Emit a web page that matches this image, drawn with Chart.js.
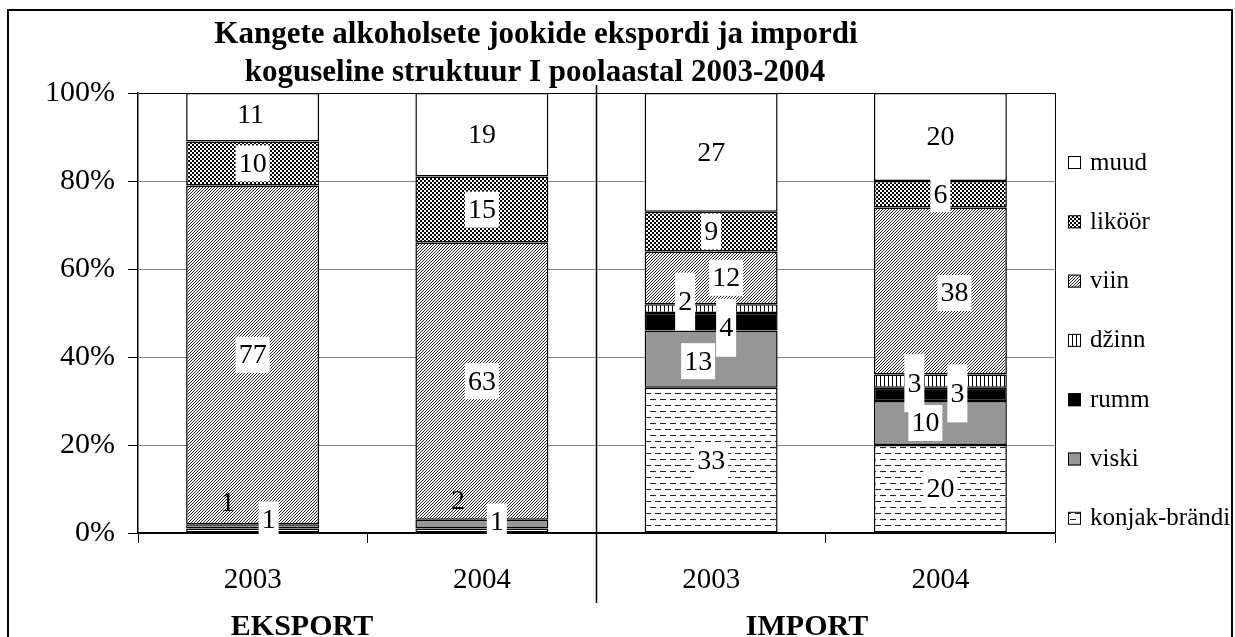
<!DOCTYPE html>
<html>
<head>
<meta charset="utf-8">
<script src="https://cdn.jsdelivr.net/npm/chart.js@4.4.1/dist/chart.umd.min.js"></script>
<style>
  body { margin: 0; background: #fff; }
  canvas { display: block; }
</style>
</head>
<body>
<canvas id="chart" width="1235" height="637"></canvas>
<script>
// andmed
const categories = ["2003", "2004", "2003", "2004"];
const groups = ["EKSPORT", "IMPORT"];
const titleLines = ["Kangete alkoholsete jookide ekspordi ja impordi", "koguseline struktuur I poolaastal 2003-2004"];
const seriesNames = ["konjak-brändi", "viski", "rumm", "džinn", "viin", "liköör", "muud"];
const konjak = [1, 1, 33, 20];
const viski = [1, 2, 13, 10];
const rumm = [0, 0, 4, 3];
const dzinn = [0, 0, 2, 3];
const viin = [77, 63, 12, 38];
const likoor = [10, 15, 9, 6];
const muud = [11, 19, 27, 20];
const yTicks = [0, 20, 40, 60, 80, 100];

const serif = "'Times New Roman', 'Liberation Serif', serif";

function makePattern(w, h, draw) {
    const c = document.createElement("canvas");
    c.width = w;
    c.height = h;
    const g = c.getContext("2d");
    draw(g);
    return g.createPattern(c, "repeat");
}

// mustrid (Exceli stiilis)
const fills = [
    makePattern(10, 12, (g) => {
        g.fillStyle = "#fff"; g.fillRect(0, 0, 10, 12);
        g.fillStyle = "#222";
        g.fillRect(0, 3, 6, 1);
        g.fillRect(5, 9, 5, 1);
        g.fillRect(0, 9, 1, 1);
    }),
    "#969696",
    "#000000",
    makePattern(4, 4, (g) => {
        g.fillStyle = "#fff"; g.fillRect(0, 0, 4, 4);
        g.fillStyle = "#000"; g.fillRect(0, 0, 1, 4);
    }),
    makePattern(3, 3, (g) => {
        g.fillStyle = "#fff"; g.fillRect(0, 0, 3, 3);
        g.fillStyle = "#222";
        for (let y = 0; y < 3; y++) g.fillRect(2 - y, y, 1, 1);
    }),
    makePattern(4, 4, (g) => {
        g.fillStyle = "#fff"; g.fillRect(0, 0, 4, 4);
        g.fillStyle = "#000";
        g.fillRect(0, 0, 2, 2);
        g.fillRect(2, 2, 2, 2);
    }),
    "#ffffff",
];

const values = [konjak, viski, rumm, dzinn, viin, likoor, muud];

// siltide nihked: [dx, dy, kasti kõrgus, ilma kastita]
const labelNudge = {
    "konjak-brändi": [[16, -11], [15, -9], null, null],
    "viski": [[-25, -24, 36, true], [-24, -24, 36, true], [-13, 2], [-15, 0]],
    "rumm": [null, null, [15, 6, 58], [17, -1, 58]],
    "džinn": [null, null, [-26, -7, 58], [-26, 2, 58]],
    "viin": [null, null, [15, 0], [14, 2]],
    "liköör": [null, null, null, null],
    "muud": [[-2, -3], null, null, null],
};

const dataLabels = {
    id: "dataLabels",
    afterDatasetsDraw(chart) {
        const ctx = chart.ctx;
        ctx.save();
        ctx.font = "28px " + serif;
        ctx.textAlign = "center";
        ctx.textBaseline = "middle";
        chart.data.datasets.forEach((ds, di) => {
            const meta = chart.getDatasetMeta(di);
            meta.data.forEach((bar, i) => {
                const v = ds.data[i];
                if (!v) return;
                const n = (labelNudge[ds.label] || [])[i] || [0, 0];
                const x = bar.x + n[0];
                const y = (bar.y + bar.base) / 2 + n[1];
                const text = String(v);
                const w = ctx.measureText(text).width + 6;
                const h = n[2] || 36;
                if (!n[3]) {
                    ctx.fillStyle = "#fff";
                    ctx.fillRect(x - w / 2, y - h / 2, w, h);
                }
                ctx.fillStyle = "#000";
                ctx.fillText(text, x, y + 1);
            });
        });
        ctx.restore();
    },
};

const decor = {
    id: "decor",
    afterDraw(chart) {
        const ctx = chart.ctx;
        const area = chart.chartArea;
        const xs = chart.scales.x;
        ctx.save();
        // raam
        ctx.strokeStyle = "#000";
        ctx.lineWidth = 2;
        ctx.beginPath();
        ctx.moveTo(8, 640);
        ctx.lineTo(8, 10);
        ctx.lineTo(1232, 10);
        ctx.lineTo(1232, 640);
        ctx.stroke();

        // eraldusjoon ekspordi ja impordi vahel
        const mid = (xs.getPixelForValue(1) + xs.getPixelForValue(2)) / 2;
        ctx.lineWidth = 1.5;
        ctx.beginPath();
        ctx.moveTo(mid, 85);
        ctx.lineTo(mid, 603);
        ctx.stroke();

        // joonise parem serv
        ctx.lineWidth = 1;
        ctx.beginPath();
        ctx.moveTo(area.right + 0.5, area.top);
        ctx.lineTo(area.right + 0.5, area.bottom);
        ctx.stroke();

        // pealkiri
        ctx.fillStyle = "#000";
        ctx.textAlign = "center";
        ctx.textBaseline = "alphabetic";
        ctx.font = "bold 31px " + serif;
        ctx.fillText(titleLines[0], 536, 43);
        ctx.fillText(titleLines[1], 535, 81);

        // rühmade nimed
        ctx.font = "bold 30px " + serif;
        ctx.fillText(groups[0], 302, 635);
        ctx.fillText(groups[1], 807, 635);

        // legend
        ctx.font = "25px " + serif;
        ctx.textAlign = "left";
        ctx.textBaseline = "middle";
        for (let k = seriesNames.length - 1, row = 0; k >= 0; k--, row++) {
            const cy = 162 + row * 59.3;
            ctx.fillStyle = fills[k];
            ctx.fillRect(1068, cy - 6, 13, 13);
            ctx.strokeStyle = "#000";
            ctx.lineWidth = 1;
            ctx.strokeRect(1068.5, cy - 5.5, 12, 12);
            ctx.fillStyle = "#000";
            ctx.fillText(seriesNames[k], 1090, cy + 1);
        }
        ctx.restore();
    },
};

new Chart(document.getElementById("chart"), {
    type: "bar",
    data: {
        labels: categories,
        datasets: seriesNames.map((name, k) => ({
            label: name,
            data: values[k],
            backgroundColor: fills[k],
            borderColor: "#000",
            borderWidth: 1.5,
            borderSkipped: false,
            barPercentage: 0.58,
            categoryPercentage: 1,
        })),
    },
    options: {
        responsive: false,
        animation: false,
        layout: { padding: { top: 93, right: 180, left: 0, bottom: 0 } },
        plugins: {
            legend: { display: false },
            title: { display: false },
            tooltip: { enabled: false },
        },
        scales: {
            x: {
                stacked: true,
                afterFit: (s) => { s.height = 104; },
                grid: { offset: true, drawOnChartArea: false, tickLength: 10, color: "#000", tickColor: "#000" },
                border: { color: "#000", width: 1.5 },
                ticks: { color: "#000", padding: 20, font: { family: serif, size: 29 } },
            },
            y: {
                stacked: true,
                min: 0,
                max: 100,
                afterFit: (s) => { s.width = 138; },
                afterBuildTicks: (s) => { s.ticks = yTicks.map((v) => ({ value: v })); },
                grid: {
                    color: (c) => (c.tick && (c.tick.value === 100 || c.tick.value === 0) ? "#000" : "#808080"),
                    tickLength: 10,
                    tickColor: "#000",
                },
                border: { color: "#000", width: 1.5 },
                ticks: {
                    color: "#000",
                    padding: 13,
                    font: { family: serif, size: 30 },
                    callback: (v) => v + "%",
                },
            },
        },
    },
    plugins: [dataLabels, decor],
});
</script>
</body>
</html>
